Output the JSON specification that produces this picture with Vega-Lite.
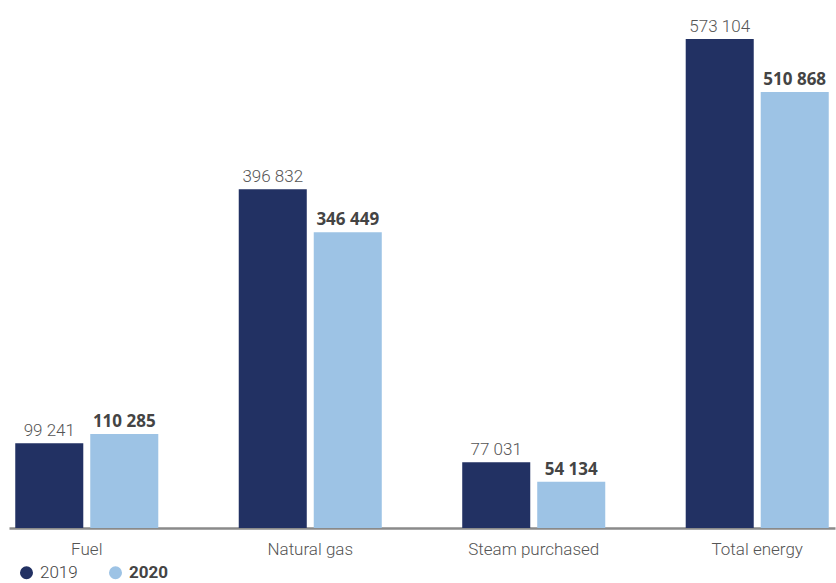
{
  "$schema": "https://vega.github.io/schema/vega-lite/v6.json",
  "width": 826,
  "height": 518,
  "autosize": "none",
  "padding": {"left": 9, "top": 10, "right": 1, "bottom": 55},
  "background": "white",
  "data": {"values": [
    {"category": "Fuel", "year": "2019", "value": 99241, "label": "99 241"},
    {"category": "Fuel", "year": "2020", "value": 110285, "label": "110 285"},
    {"category": "Natural gas", "year": "2019", "value": 396832, "label": "396 832"},
    {"category": "Natural gas", "year": "2020", "value": 346449, "label": "346 449"},
    {"category": "Steam purchased", "year": "2019", "value": 77031, "label": "77 031"},
    {"category": "Steam purchased", "year": "2020", "value": 54134, "label": "54 134"},
    {"category": "Total energy", "year": "2019", "value": 573104, "label": "573 104"},
    {"category": "Total energy", "year": "2020", "value": 510868, "label": "510 868"}
  ]},
  "encoding": {
    "x": {"field": "category", "type": "nominal", "sort": null,
      "scale": {"paddingInner": 0.36, "paddingOuter": 0.028},
      "axis": {"title": null, "labelAngle": 0, "ticks": false, "labelPadding": 13,
        "labelFontSize": 17, "labelColor": "#555555", "labelFont": "Roboto", "labelFontWeight": 300,
        "domainColor": "#8a8a8a", "domainWidth": 2.5}},
    "xOffset": {"field": "year", "type": "nominal", "scale": {"paddingInner": 0.093}},
    "y": {"field": "value", "type": "quantitative", "scale": {"domain": [0, 607000]}, "axis": null}
  },
  "layer": [
    {
      "mark": {"type": "bar"},
      "encoding": {
        "color": {"field": "year", "type": "nominal",
          "scale": {"domain": ["2019", "2020"], "range": ["#223163", "#9dc3e5"]},
          "legend": {"title": null, "orient": "none", "direction": "horizontal",
            "legendX": 9, "legendY": 554, "symbolType": "circle", "symbolSize": 170,
            "symbolStrokeWidth": 0, "labelFontSize": 17, "labelColor": "#444444", "labelFont": "Roboto",
            "columnPadding": 29, "labelOffset": 5, "labelBaseline": "middle",
            "encode": {"labels": {"update": {"fontWeight": {"signal": "datum.label == '2020' ? 'bold' : 300"}}}}}}
      }
    },
    {
      "transform": [{"filter": "datum.year == '2019'"}],
      "mark": {"type": "text", "baseline": "bottom", "dy": -3, "fontSize": 17, "font": "Roboto", "fontWeight": 300, "color": "#555555"},
      "encoding": {"text": {"field": "label"}}
    },
    {
      "transform": [{"filter": "datum.year == '2020'"}],
      "mark": {"type": "text", "baseline": "bottom", "dy": -3, "fontSize": 17, "font": "Open Sans", "fontWeight": "bold", "color": "#444444"},
      "encoding": {"text": {"field": "label"}}
    }
  ],
  "config": {"view": {"stroke": null}}
}
